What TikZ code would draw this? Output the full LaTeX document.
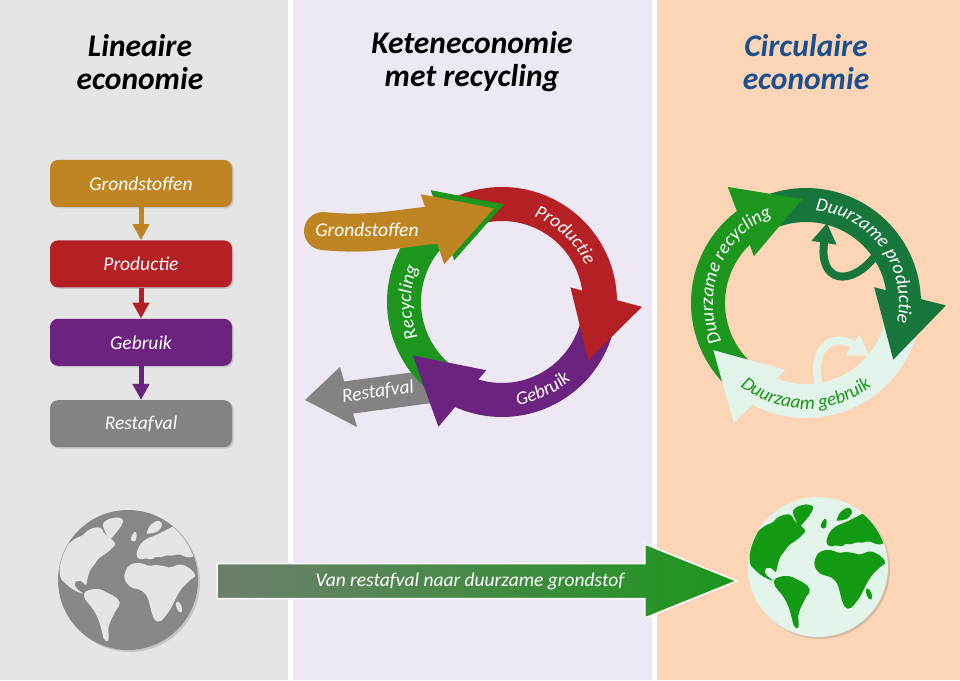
\documentclass[tikz,border=0pt]{standalone}
\usepackage{fontspec}
\setmainfont{Carlito}
\usetikzlibrary{arrows.meta,positioning,shadows,decorations.text,calc}

\definecolor{panelgrey}{HTML}{E5E5E5}
\definecolor{panellilac}{HTML}{EEE8F4}
\definecolor{panelpeach}{HTML}{FBD5B5}
\definecolor{grondgold}{HTML}{BF8522}
\definecolor{prodred}{HTML}{B52024}
\definecolor{gebrpurple}{HTML}{6C2380}
\definecolor{restgrey}{HTML}{838383}
\definecolor{recgreen}{HTML}{1C961C}
\definecolor{duurdark}{HTML}{17763B}
\definecolor{duurmint}{HTML}{E3F4EA}
\definecolor{titleblue}{HTML}{1B4F8E}
\definecolor{fadegreen}{HTML}{6E7E6E}
\definecolor{globegrey}{HTML}{888888}
\definecolor{landgreen}{HTML}{139A13}

\newcommand{\boxfont}{\fontsize{19.5}{22}\selectfont\itshape}
\newcommand{\ringfont}{\fontsize{19}{22}\selectfont\itshape}
\newcommand{\coltitlefont}{\fontsize{31.5}{33}\selectfont\bfseries\itshape}

%% ring pieces, drawn in a scope shifted to the ring centre
\newcommand{\ringband}[3]{%
  \fill[#1] (#2:115) arc[start angle=#2, end angle=#3-3, radius=115]
    -- (#3-3:81) arc[start angle=#3-3, end angle=#2, radius=81] -- cycle;}
\newcommand{\ringhead}[2]{%
  \fill[#1] (#2-5:140) -- (#2-37:104) -- (#2+9:70) -- cycle;}

%% rough world map, globe radius 70
\newcommand{\landmasses}[1]{%
  \begin{scope}[rounded corners=2pt]
  \fill[#1] (-69,20) -- (-66,30) -- (-60,36) -- (-52,42) -- (-46,44) -- (-40,50) -- (-32,53) -- (-26,52) -- (-24,46)
    -- (-20,44) -- (-16,40) -- (-12,36) -- (-16,32) -- (-20,28) -- (-26,24) -- (-30,21) -- (-34,15) -- (-38,10)
    -- (-40,4) -- (-41,-1) -- (-42,-6) -- (-45,-2) -- (-50,0) -- (-54,-3) -- (-52,-8) -- (-47,-12) -- (-44,-14)
    -- (-48,-13) -- (-56,-9) -- (-62,-4) -- (-68,2) -- cycle;
  \fill[#1] (-26,56) -- (-20,61) -- (-10,63) -- (-4,60) -- (-8,52) -- (-13,46) -- (-18,40) -- (-22,46) -- cycle;
  \fill[#1] (-44,-12) -- (-36,-9) -- (-28,-9) -- (-20,-13) -- (-14,-16) -- (-9,-20) -- (-8,-25) -- (-12,-30)
    -- (-15,-36) -- (-18,-42) -- (-20,-50) -- (-19,-57) -- (-20,-62) -- (-24,-60) -- (-26,-52) -- (-28,-44)
    -- (-31,-36) -- (-35,-29) -- (-40,-23) -- (-44,-18) -- cycle;
  \fill[#1] (2,40) -- (5,47) -- (8,49) -- (9,43) -- (7,38) -- cycle;
  \fill[#1] (18,46) -- (22,55) -- (30,60) -- (35,56) -- (31,49) -- (26,47) -- cycle;
  \fill[#1] (8,24) -- (10,32) -- (14,38) -- (20,42) -- (26,44) -- (32,47) -- (38,50) -- (46,54) -- (56,56)
    -- (66,56) -- (74,52) -- (74,22) -- (66,24) -- (60,22) -- (56,24) -- (50,26) -- (44,24) -- (38,25)
    -- (32,22) -- (28,24) -- (24,20) -- (18,22) -- (12,20) -- cycle;
  \fill[#1] (0,14) -- (6,17) -- (14,17) -- (20,14) -- (28,15) -- (36,14) -- (42,12) -- (46,14) -- (52,16)
    -- (58,14) -- (64,10) -- (68,4) -- (62,0) -- (58,-4) -- (54,-8) -- (50,-14) -- (46,-22) -- (42,-30)
    -- (36,-38) -- (32,-42) -- (27,-41) -- (24,-34) -- (22,-26) -- (20,-18) -- (16,-12) -- (10,-9) -- (4,-8)
    -- (-1,-4) -- (-4,2) -- (-3,8) -- cycle;
  \end{scope}
  \fill[#1, rotate around={20:(51,-27)}] (51,-27) ellipse[x radius=2.5, y radius=6];}

\tikzset{
  stepbox/.style={rectangle, rounded corners=8pt, minimum width=182pt, minimum height=47pt,
    text=white, font=\boxfont, drop shadow={opacity=0.3, shadow xshift=1.5pt, shadow yshift=-1.5pt}},
  flowarrow/.style={line width=5pt, -{Triangle[length=16pt, width=16pt]}},
  coltitle/.style={align=center, font=\coltitlefont},
  ringtext/.style 2 args={decorate, decoration={text along path, text align=center,
    text color=#2, text={|\ringfont|#1}}},
  looparrow/.style={line width=8pt, -{Triangle[length=20pt, width=24pt]}},
  globe/.style={circle, minimum size=140pt, inner sep=0pt,
    drop shadow={opacity=0.3, shadow xshift=2pt, shadow yshift=-2pt}},
  bigarrow/.style={draw=white, line width=1.5pt, left color=fadegreen, right color=recgreen}
}

\begin{document}
\begin{tikzpicture}[x=1pt,y=1pt]
    \useasboundingbox (0,0) rectangle (960,680);
    %% Panels
    \fill[white] (0,0) rectangle (960,680);
    \fill[panelgrey] (0,0) rectangle (288,680);
    \fill[panellilac] (293,0) rectangle (652,680);
    \fill[panelpeach] (657,0) rectangle (960,680);
    %% Titles
    \node[coltitle] (lintitle) at (140,618) {Lineaire\\economie};
    \node[coltitle] (ketentitle) at (472,618) {Keteneconomie\\met recycling};
    \node[coltitle, text=titleblue] (circtitle) at (806,618) {Circulaire\\economie};
    %% Linear chain
    \node[stepbox, fill=grondgold] (grond) at (141,496.5) {Grondstoffen};
    \node[stepbox, fill=prodred, anchor=north] (prod) at ([yshift=-33]grond.south) {Productie};
    \node[stepbox, fill=gebrpurple, anchor=north] (gebr) at ([yshift=-31]prod.south) {Gebruik};
    \node[stepbox, fill=restgrey, anchor=north] (rest) at ([yshift=-34]gebr.south) {Restafval};
    \draw[flowarrow, grondgold] (grond) -- (prod);
    \draw[flowarrow, prodred] (prod) -- (gebr);
    \draw[flowarrow, gebrpurple] (gebr) -- (rest);
    %% Chain with recycling
    \begin{scope}[shift={(502,378)}]
        \draw[line width=33pt, restgrey] (-157,-96) -- (-60,-83);
        \fill[restgrey] (-162,-65) -- (-197,-98) -- (-145,-125) -- cycle;
        \node[rotate=8, text=white, font=\boxfont] (resttext) at (-124,-90) {Restafval};
        \ringband{recgreen}{230}{128}
        \ringband{prodred}{115}{3}
        \ringband{gebrpurple}{-5}{-112}
        \ringhead{gebrpurple}{-112}
        \ringhead{prodred}{3}
        \fill[recgreen, shift={(10,4)}] (127:135) -- (95:94) -- (147:69) -- cycle;
        \draw[line width=38pt, grondgold, line cap=round] (-179,71) .. controls (-132,66) and (-102,74) .. (-67,77);
        \fill[grondgold] (127:135) -- (95:94) -- (147:69) -- cycle;
        \node[text=white, font=\boxfont] (grondtext) at (-135,72) {Grondstoffen};
        \path[ringtext={Productie}{white}] (85:91) arc[start angle=85, end angle=8, radius=91];
        \path[ringtext={Gebruik}{white}] (-110:104) arc[start angle=-110, end angle=-20, radius=104];
        \path[ringtext={Recycling}{white}] (225:91) arc[start angle=225, end angle=135, radius=91];
    \end{scope}
    %% Circular economy
    \begin{scope}[shift={(806,377)}]
        \ringband{recgreen}{225}{129}
        \ringband{duurdark}{115}{4}
        \ringband{duurmint}{-5}{-116}
        \ringhead{duurmint}{-116}
        \ringhead{duurdark}{4}
        \ringhead{recgreen}{129}
        \draw[looparrow, duurdark] (70,48) .. controls (45,15) and (12,20) .. (21,80);
        \draw[looparrow, duurmint] (14,-88) .. controls (2,-40) and (30,-30) .. (63,-53);
        \path[ringtext={Duurzame recycling}{white}] (218:93) arc[start angle=218, end angle=98, radius=93];
        \path[ringtext={Duurzame productie}{white}] (98:93) arc[start angle=98, end angle=-26, radius=93];
        \path[ringtext={Duurzaam gebruik}{recgreen}] (-143:106) arc[start angle=-143, end angle=-37, radius=106];
    \end{scope}
    %% Globes
    \node[globe, fill=globegrey] (oldearth) at (128,100) {};
    \begin{scope}
        \clip (oldearth.center) circle (69.5);
        \begin{scope}[shift={(oldearth.center)}]
            \landmasses{panelgrey}
        \end{scope}
    \end{scope}
    \node[globe, fill=duurmint] (newearth) at (818,113) {};
    \begin{scope}
        \clip (newearth.center) circle (69.5);
        \begin{scope}[shift={(newearth.center)}]
            \landmasses{landgreen}
        \end{scope}
    \end{scope}
    %% From waste to resource
    \coordinate (vanstart) at ($(oldearth.east)+(19,-1)$);
    \coordinate (naartip) at ($(newearth.west |- vanstart)+(-11,0)$);
    \draw[bigarrow] ([yshift=17.5]vanstart) -- ([xshift=-92,yshift=17.5]naartip) -- ([xshift=-92,yshift=37]naartip)
        -- (naartip) -- ([xshift=-92,yshift=-37]naartip) -- ([xshift=-92,yshift=-17.5]naartip) -- ([yshift=-17.5]vanstart) -- cycle;
    \node[text=white, font=\boxfont] (vantext) at ($(vanstart)!0.5!(naartip)+(-7,0)$) {Van restafval naar duurzame grondstof};
\end{tikzpicture}
\end{document}
